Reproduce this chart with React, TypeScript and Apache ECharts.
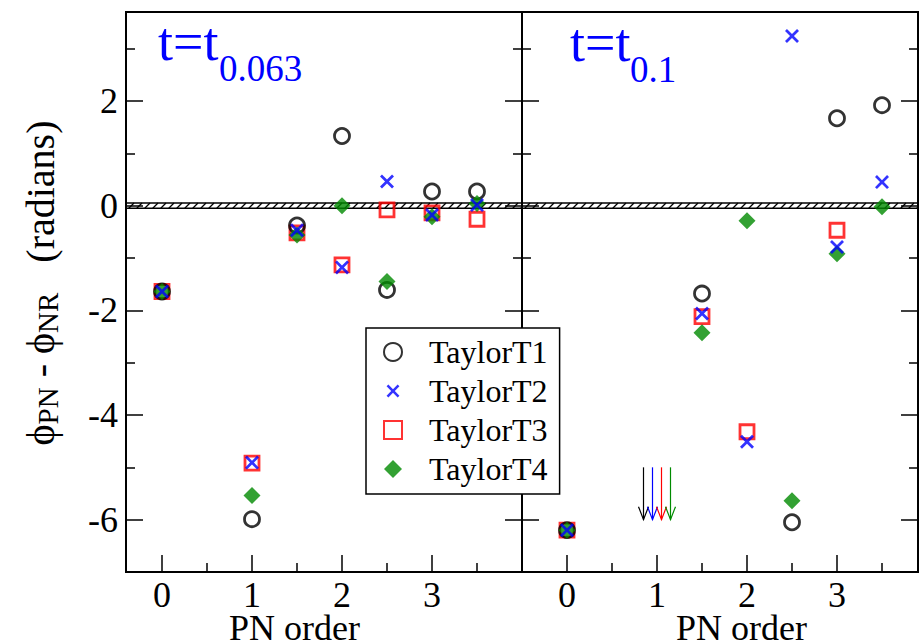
import React, { useEffect, useRef } from 'react';
import * as echarts from 'echarts';

// ---- data ----
const pnOrders = [0, 1, 1.5, 2, 2.5, 3, 3.5];
const seriesNames = ['TaylorT1', 'TaylorT2', 'TaylorT3', 'TaylorT4'];
// panel t = t_0.063
const earlyT1 = [-1.64, -5.99, -0.38, 1.33, -1.61, 0.27, 0.27];
const earlyT2 = [-1.64, -4.91, -0.47, -1.18, 0.46, -0.18, 0.01];
const earlyT3 = [-1.64, -4.92, -0.52, -1.13, -0.08, -0.14, -0.26];
const earlyT4 = [-1.64, -5.54, -0.56, 0.0, -1.45, -0.21, 0.04];
// panel t = t_0.1
const lateT1 = [-6.2, null, -1.68, null, -6.05, 1.67, 1.92];
const lateT2 = [-6.2, null, -2.06, -4.51, 3.24, -0.79, 0.45];
const lateT3 = [-6.2, null, -2.12, -4.32, null, -0.47, null];
const lateT4 = [-6.2, null, -2.43, -0.29, -5.64, -0.92, -0.02];
// off-scale 1PN values (arrows, T1..T4)
const offScaleArrowX = [0.85, 0.95, 1.05, 1.15];
const offScaleArrowRange = [-5, -6];
// numerical-relativity error band around zero
const nrErrorBand = [-0.05, 0.05];
// ticks
const xTickValues = [0, 1, 2, 3];
const xMinorTickValues = [0.5, 1.5, 2.5, 3.5];
const yTickValues = [-6, -4, -2, 0, 2];
const yMinorTickValues = [-5, -3, -1, 1, 3];
const panelTitleMain = ['t=t', 't=t'];
const panelTitleSub = ['0.063', '0.1'];

// ---- styles ----
const FONT = 'Liberation Serif, Times New Roman, serif';
const GREEN = '#008a00';
const seriesColors = ['#000000', '#0000ff', '#ff0000', GREEN];
const X_PATH =
  'path://M0,1.4 L1.4,0 L5,3.6 L8.6,0 L10,1.4 L6.4,5 L10,8.6 L8.6,10 L5,6.4 L1.4,10 L0,8.6 L3.6,5 Z';
const X_LEGEND_PATH =
  'path://M0,1.4 L1.4,0 L5,3.6 L8.6,0 L10,1.4 L6.4,5 L10,8.6 L8.6,10 L5,6.4 L1.4,10 L0,8.6 L3.6,5 Z M-2,-2 L-1.99,-2 L-1.99,-1.99 Z M12,12 L11.99,12 L11.99,11.99 Z';

const symbolStyle = (k: number) => {
  switch (k) {
    case 0:
      return { symbol: 'circle', symbolSize: 15, itemStyle: { color: 'rgba(0,0,0,0)', borderColor: '#000', borderWidth: 2.8 } };
    case 1:
      return { symbol: X_PATH, symbolSize: 14, itemStyle: { color: seriesColors[1] } };
    case 2:
      return { symbol: 'rect', symbolSize: 14, itemStyle: { color: 'rgba(0,0,0,0)', borderColor: seriesColors[2], borderWidth: 2.8 } };
    default:
      return { symbol: 'diamond', symbolSize: 17, itemStyle: { color: GREEN } };
  }
};

const toPoints = (vals: (number | null)[]) =>
  pnOrders.map((x, i) => [x, vals[i]]).filter((p) => p[1] !== null);

const bandRender = (params: any, api: any) => {
  const cs = params.coordSys;
  const yTop = api.coord([0, api.value(1)])[1];
  const yBot = api.coord([0, api.value(0)])[1];
  const h = yBot - yTop;
  const x0 = cs.x;
  const x1 = cs.x + cs.width;
  const children: any[] = [];
  const step = 8;
  for (let x = x0 - h; x < x1; x += step) {
    const tmin = Math.max(0, (x0 - x) / h);
    const tmax = Math.min(1, (x1 - x) / h);
    if (tmax <= tmin) continue;
    children.push({
      type: 'line',
      shape: { x1: x + tmin * h, y1: yBot - tmin * h, x2: x + tmax * h, y2: yBot - tmax * h },
      style: { stroke: '#000', lineWidth: 1.3 },
    });
  }
  children.push({ type: 'line', shape: { x1: x0, y1: yTop, x2: x1, y2: yTop }, style: { stroke: '#000', lineWidth: 1.5 } });
  children.push({ type: 'line', shape: { x1: x0, y1: yBot, x2: x1, y2: yBot }, style: { stroke: '#000', lineWidth: 1.5 } });
  return { type: 'group', children };
};

const arrowRender = (params: any, api: any) => {
  const top = api.coord([api.value(0), api.value(1)]);
  const tip = api.coord([api.value(0), api.value(2)]);
  const color = seriesColors[params.dataIndex];
  return {
    type: 'group',
    children: [
      { type: 'line', shape: { x1: top[0], y1: top[1], x2: tip[0], y2: tip[1] }, style: { stroke: color, lineWidth: 1.2 } },
      {
        type: 'polyline',
        shape: { points: [[tip[0] - 5, tip[1] - 13], [tip[0], tip[1]], [tip[0] + 5, tip[1] - 13]] },
        style: { stroke: color, fill: 'none', lineWidth: 1.2 },
      },
    ],
  };
};

const Y_MIN = -7;
const Y_MAX = 3.7;

const yAxisDef = (gridIndex: number, position: string, major: boolean, labels: boolean) => ({
  type: 'value',
  gridIndex,
  position,
  min: Y_MIN,
  max: Y_MAX,
  axisLine: { show: false, onZero: false },
  splitLine: { show: false },
  axisTick: {
    show: true,
    inside: true,
    length: major ? 17 : 9,
    customValues: major ? yTickValues : yMinorTickValues,
    lineStyle: { color: '#000', width: 1.5 },
  },
  axisLabel: labels
    ? { show: true, customValues: yTickValues, margin: 8, fontFamily: FONT, fontSize: 36, color: '#000' }
    : { show: false },
});

const xAxisDef = (gridIndex: number, min: number, max: number, major: boolean, namePad?: number[]) => ({
  type: 'value',
  gridIndex,
  position: 'bottom',
  min,
  max,
  axisLine: { show: false, onZero: false },
  splitLine: { show: false },
  axisTick: {
    show: true,
    inside: true,
    length: major ? 17 : 9,
    customValues: major ? xTickValues : xMinorTickValues,
    lineStyle: { color: '#000', width: 1.5 },
  },
  axisLabel: major
    ? { show: true, customValues: xTickValues, margin: 9, fontFamily: FONT, fontSize: 36, lineHeight: 28, color: '#000' }
    : { show: false },
  name: major ? 'PN order' : '',
  nameLocation: 'middle',
  nameGap: 43,
  nameMoveOverlap: false,
  nameTextStyle: { fontFamily: FONT, fontSize: 36, lineHeight: 26, color: '#000', padding: namePad || 0 },
});

export default function App() {
  const ref = useRef<HTMLDivElement>(null);
  useEffect(() => {
    document.body.style.margin = '0';
    if (!ref.current) return;
    const chart = echarts.init(ref.current, null, { renderer: 'svg' });

    const panels = [
      [earlyT1, earlyT2, earlyT3, earlyT4],
      [lateT1, lateT2, lateT3, lateT4],
    ];
    const drawOrder = [2, 0, 3, 1];
    const series: any[] = [];
    panels.forEach((vals, p) => {
      series.push({
        type: 'custom',
        xAxisIndex: p * 2,
        yAxisIndex: p * 4,
        renderItem: bandRender,
        data: [[nrErrorBand[0], nrErrorBand[1]]],
        clip: false,
        silent: true,
        z: 1,
      });
      drawOrder.forEach((k) => {
        series.push({
          type: 'scatter',
          name: seriesNames[k],
          xAxisIndex: p * 2,
          yAxisIndex: p * 4,
          data: toPoints(vals[k]),
          ...symbolStyle(k),
          z: 3,
        });
      });
    });
    series.push({
      type: 'custom',
      xAxisIndex: 2,
      yAxisIndex: 4,
      renderItem: arrowRender,
      encode: { x: 0, y: [1, 2] },
      data: offScaleArrowX.map((x) => [x, offScaleArrowRange[0], offScaleArrowRange[1]]),
      silent: true,
      z: 2,
    });

    const gridBase = {
      top: 12,
      height: 560,
      width: 396,
      show: true,
      borderColor: '#000',
      borderWidth: 2,
      backgroundColor: 'rgba(0,0,0,0)',
      containLabel: false,
      outerBoundsMode: 'none',
    };

    chart.setOption({
      animation: false,
      backgroundColor: '#fff',
      grid: [
        { ...gridBase, left: 126 },
        { ...gridBase, left: 522 },
      ],
      xAxis: [
        xAxisDef(0, -0.4, 4.0, true, [0, 59, 0, 0]),
        xAxisDef(0, -0.4, 4.0, false),
        xAxisDef(1, -0.5, 3.9, true, [0, 0, 0, 43]),
        xAxisDef(1, -0.5, 3.9, false),
      ],
      yAxis: [
        yAxisDef(0, 'left', true, true),
        yAxisDef(0, 'left', false, false),
        yAxisDef(0, 'right', true, false),
        yAxisDef(0, 'right', false, false),
        yAxisDef(1, 'left', true, false),
        yAxisDef(1, 'left', false, false),
        yAxisDef(1, 'right', true, false),
        yAxisDef(1, 'right', false, false),
      ],
      legend: {
        orient: 'vertical',
        left: 366,
        top: 328,
        padding: [8, 12, 9, 17],
        itemWidth: 18,
        itemHeight: 18,
        itemGap: 7,
        selectedMode: false,
        backgroundColor: '#fff',
        borderColor: '#000',
        borderWidth: 1.5,
        borderRadius: 0,
        textStyle: { fontFamily: FONT, fontSize: 32, color: '#000', lineHeight: 30, padding: [0, 0, 0, 22] },
        data: [
          { name: 'TaylorT1' },
          { name: 'TaylorT2', icon: X_LEGEND_PATH },
          { name: 'TaylorT3' },
          { name: 'TaylorT4' },
        ],
      },
      graphic: [
        { type: 'text', x: 158, y: 41.6, style: { text: panelTitleMain[0], fontFamily: FONT, fontSize: 54, fill: '#0000ff', verticalAlign: 'middle', align: 'left' } },
        { type: 'text', x: 219, y: 68.4, style: { text: panelTitleSub[0], fontFamily: FONT, fontSize: 37, fill: '#0000ff', verticalAlign: 'middle', align: 'left' } },
        { type: 'text', x: 570, y: 42.6, style: { text: panelTitleMain[1], fontFamily: FONT, fontSize: 54, fill: '#0000ff', verticalAlign: 'middle', align: 'left' } },
        { type: 'text', x: 630, y: 69.4, style: { text: panelTitleSub[1], fontFamily: FONT, fontSize: 37, fill: '#0000ff', verticalAlign: 'middle', align: 'left' } },
        {
          type: 'text',
          x: 40,
          y: 283,
          rotation: Math.PI / 2,
          style: {
            text: '{m|ϕ}{s|PN}{m| - ϕ}{s|NR}{m|   (radians)}',
            align: 'center',
            verticalAlign: 'middle',
            fill: '#000',
            rich: {
              m: { fontFamily: FONT, fontSize: 40, lineHeight: 44, fill: '#000' },
              s: { fontFamily: FONT, fontSize: 29, lineHeight: 29, verticalAlign: 'bottom', fill: '#000' },
            },
          },
        },
      ],
      series,
    });
    return () => chart.dispose();
  }, []);
  return <div ref={ref} style={{ width: 920, height: 644 }} />;
}
